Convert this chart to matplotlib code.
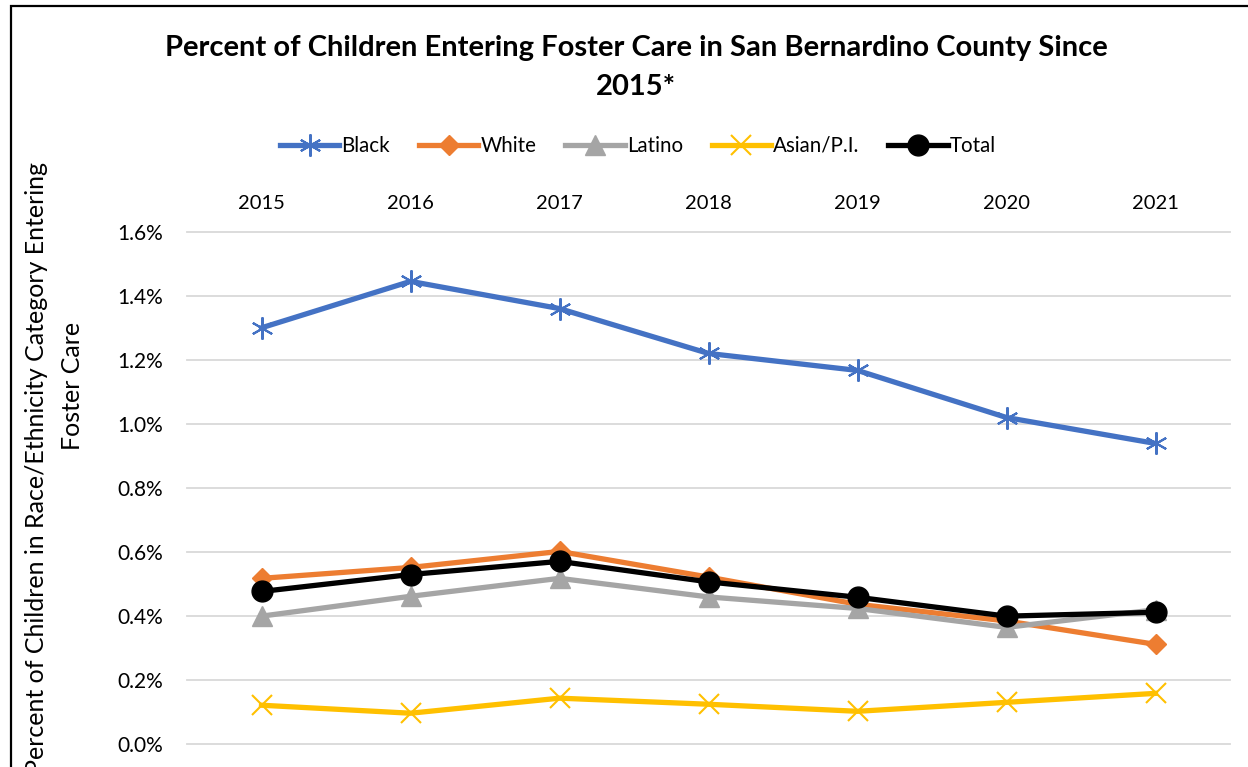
import numpy as np
import matplotlib.pyplot as plt
from matplotlib.patches import Rectangle

plt.rcParams['font.family'] = ['Lato', 'DejaVu Sans']

years = ['2015', '2016', '2017', '2018', '2019', '2020', '2021']
black = [1.30, 1.445, 1.36, 1.22, 1.167, 1.02, 0.939]
white = [0.518, 0.552, 0.602, 0.522, 0.437, 0.385, 0.312]
latino = [0.40, 0.462, 0.518, 0.46, 0.424, 0.365, 0.42]
asian = [0.122, 0.097, 0.144, 0.125, 0.103, 0.131, 0.159]
total = [0.477, 0.530, 0.571, 0.507, 0.459, 0.40, 0.412]
y_ticks = [0.0, 0.2, 0.4, 0.6, 0.8, 1.0, 1.2, 1.4, 1.6]

W, H = 1248, 767
fig = plt.figure(figsize=(W / 100, H / 100), dpi=100)
ax = fig.add_axes([187 / W, 1 - 744.3 / H, (1230 - 187) / W, (744.3 - 231.7) / H])

x = np.arange(len(years))
lw = 3.8
ax.plot(x, black, color='#4472C4', lw=lw, marker=(6, 2, 0), ms=16,
        mew=1.5, mec='#4472C4', label='Black')
ax.plot(x, white, color='#ED7D31', lw=lw, marker='D', ms=10.5,
        mec='#ED7D31', label='White')
ax.plot(x, latino, color='#A5A5A5', lw=lw, marker='^', ms=14,
        mec='#A5A5A5', label='Latino')
ax.plot(x, asian, color='#FFC000', lw=lw, marker='x', ms=14,
        mew=1.5, mec='#FFC000', label='Asian/P.I.')
ax.plot(x, total, color='black', lw=lw, marker='o', ms=15,
        label='Total')

ax.set_xlim(-0.5, len(years) - 0.5)
ax.set_ylim(0, 1.6)
ax.set_xticks(x)
ax.set_xticklabels(years)
ax.xaxis.tick_top()
ax.set_yticks(y_ticks)
ax.set_yticklabels([f'{v:.1f}%' for v in y_ticks])
ax.tick_params(axis='both', length=0, labelsize=14.5, colors='black')
ax.tick_params(axis='x', pad=14)
ax.tick_params(axis='y', pad=17.5, labelsize=15)
ax.grid(axis='y', color='#D9D9D9', lw=1.3, clip_on=False)
ax.set_axisbelow(True)
for s in ax.spines.values():
    s.set_visible(False)

fig.text(636 / W, 1 - 48 / H,
         'Percent of Children Entering Foster Care in San Bernardino County Since',
         ha='center', va='center', fontsize=21, fontweight='bold')
fig.text(636 / W, 1 - 87 / H, '2015*', ha='center', va='center',
         fontsize=21, fontweight='bold')

fig.legend(loc='center', bbox_to_anchor=(638 / W, 1 - 146 / H), ncol=5,
           frameon=False, fontsize=14.8, handlelength=2.9, handletextpad=0.1,
           columnspacing=1.4)

fig.text(37 / W, 1 - 162 / H,
         'Percent of Children in Race/Ethnicity Category Entering',
         rotation=90, ha='center', va='top', fontsize=18)
fig.text(72 / W, 1 - 386 / H, 'Foster Care', rotation=90,
         ha='center', va='center', fontsize=18)

fig.patches.append(Rectangle((11 / W, -0.1), 1.2, 1 - 6 / H + 0.1,
                             transform=fig.transFigure, fill=False,
                             edgecolor='black', lw=1.6))

fig.savefig('out.png', dpi=100)
